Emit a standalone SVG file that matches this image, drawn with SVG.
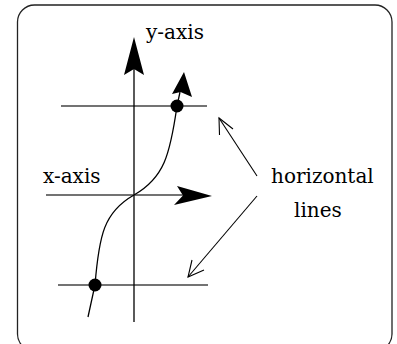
<svg xmlns="http://www.w3.org/2000/svg" width="397" height="344" viewBox="0 0 397 344">
<style>
.ln{stroke:#000;fill:none;stroke-width:1.3}
.gl{stroke:#444;fill:none;stroke-width:1.3}
.hd{fill:#000;stroke:none}
.lbl{font-family:"DejaVu Serif","Liberation Serif",serif;font-size:20px;fill:#000}
.thin{stroke:#000;fill:none;stroke-width:1.1}
</style>
<rect x="17.5" y="5" width="374.5" height="346" rx="17" ry="17" fill="#fff" stroke="#222" stroke-width="1.3"/>
<g id="hlines">
<line class="gl" x1="61" y1="106" x2="207" y2="106"/>
<line class="gl" x1="58" y1="285" x2="208" y2="285"/>
</g>
<g id="yaxis">
<line class="ln" x1="134" y1="322" x2="134" y2="68"/>
<polygon class="hd" points="134,37 144,75 134,69 124,75"/>
<text class="lbl" x="146" y="39">y-axis</text>
</g>
<g id="xaxis">
<line class="gl" x1="46" y1="195" x2="184" y2="195"/>
<polygon class="hd" points="212,196 174,205 183,195.5 177,186"/>
<text class="lbl" x="43" y="183">x-axis</text>
</g>
<g id="curve">
<path class="ln" d="M88,317 L95,285 C99,235 104,212 134,195 C164,178 170,155 177,106 L180,92"/>
<polygon class="hd" points="184,72 192,97 180.5,92 172,94"/>
<circle cx="177" cy="106" r="6.5" fill="#000"/>
<circle cx="95" cy="285" r="6.5" fill="#000"/>
</g>
<g id="label">
<text class="lbl" x="271" y="183">horizontal</text>
<text class="lbl" x="294" y="217">lines</text>
</g>
<g id="connectors">
<line class="thin" x1="257" y1="176" x2="219" y2="118"/>
<polyline class="thin" points="219.5,135 219,118 233,129"/>
<line class="thin" x1="257" y1="196" x2="188" y2="277"/>
<polyline class="thin" points="192,260 188,277 204,270"/>
</g>
</svg>
